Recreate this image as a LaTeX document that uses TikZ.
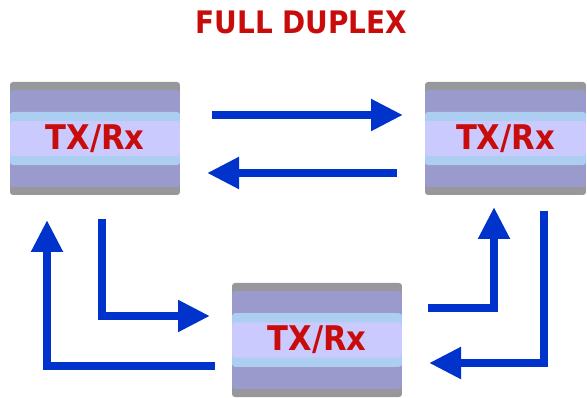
\documentclass[tikz,border=0pt]{standalone}
\usepackage{fontspec}
\setmainfont{DejaVu Sans}
\newfontfamily\condfont{DejaVu Sans Condensed}
\usetikzlibrary{arrows.meta,calc}
\definecolor{bgrey}{RGB}{152,152,156}
\definecolor{bpurple}{RGB}{154,154,204}
\definecolor{bltblue}{RGB}{172,206,240}
\definecolor{blav}{RGB}{202,202,255}
\definecolor{tred}{RGB}{200,12,12}
\definecolor{ablue}{RGB}{0,51,204}
\tikzset{
  trx/.style={minimum height=113pt, inner sep=0pt, rounded corners=3pt,
    font=\condfont\bfseries\fontsize{34}{36}\selectfont, text=tred,
    path picture={
      \fill[bgrey] (path picture bounding box.north west) rectangle (path picture bounding box.south east);
      \fill[bpurple] ($(path picture bounding box.north west)!0.071!(path picture bounding box.south west)$) rectangle ($(path picture bounding box.north east)!0.929!(path picture bounding box.south east)$);
      \fill[bltblue] ($(path picture bounding box.north west)!0.265!(path picture bounding box.south west)$) rectangle ($(path picture bounding box.north east)!0.735!(path picture bounding box.south east)$);
      \fill[blav] ($(path picture bounding box.north west)!0.345!(path picture bounding box.south west)$) rectangle ($(path picture bounding box.north east)!0.655!(path picture bounding box.south east)$);
    }},
  flow/.style={draw=ablue, line width=8pt, -{Triangle[length=32pt,width=30pt]}},
  title/.style={font=\condfont\bfseries\fontsize{31}{33}\selectfont, text=tred}
}
\begin{document}
\begin{tikzpicture}[x=1pt,y=-1pt]
\useasboundingbox (0,0) rectangle (587,398);
\node[title] (title) at (301.5,22.5) {FULL DUPLEX};
\node[trx, minimum width=170pt] (b1) at (95,138.5) {TX/Rx};
\node[trx, minimum width=161pt] (b2) at (505.5,138.5) {TX/Rx};
\node[trx, minimum width=170pt, minimum height=114pt] (b3) at (317,340) {TX/Rx};
% arrow end points
\coordinate (a1s) at (212,115);
\coordinate (a1e) at (403,115);
\coordinate (a2s) at (397,173);
\coordinate (a2e) at (207,173);
\coordinate (a3s) at (215,366);
\coordinate (a3e) at (47,220);
\coordinate (a4s) at (102,219);
\coordinate (a4e) at (210,316);
\coordinate (a5s) at (428,308);
\coordinate (a5e) at (494,207);
\coordinate (a6s) at (544,211);
\coordinate (a6e) at (429,363);
\draw[flow] (a1s) -- (a1e);
\draw[flow] (a2s) -- (a2e);
\draw[flow] (a3s) -| (a3e);
\draw[flow] (a4s) |- (a4e);
\draw[flow] (a5s) -| (a5e);
\draw[flow] (a6s) |- (a6e);
\end{tikzpicture}
\end{document}
